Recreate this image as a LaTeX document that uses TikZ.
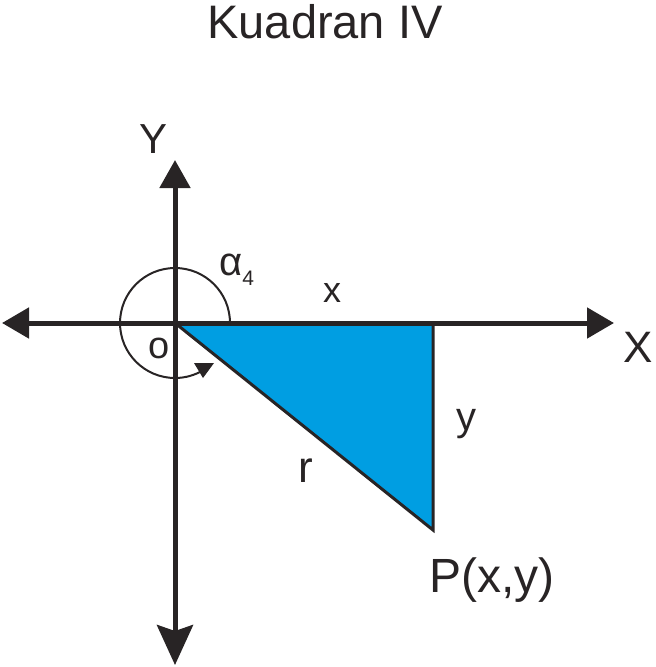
\documentclass[tikz,border=0pt]{standalone}
\usepackage{fontspec}
\setmainfont{Liberation Sans}
\usetikzlibrary{arrows.meta}
\definecolor{ink}{RGB}{40,36,37}
\definecolor{tri}{RGB}{0,158,226}
\begin{document}
\begin{tikzpicture}[x=1pt,y=-1pt,
  axis/.style={draw=ink,line width=5pt},
  lbl/.style={text=ink,inner sep=0pt,anchor=base}]
\useasboundingbox (0,0) rectangle (656,667);
\coordinate (O) at (175,323);
\coordinate (XL) at (2,323);
\coordinate (XR) at (614,323);
\coordinate (YT) at (175,160);
\coordinate (YB) at (175,665);
\coordinate (A) at (433,323);
\coordinate (P) at (433,530);
% triangle
\filldraw[fill=tri,draw=ink,line width=3pt,line join=miter] (O) -- (A) -- (P) -- cycle;
% axes
\draw[axis,-{Triangle[length=27pt,width=30pt]}] (O) -- (XL);
\draw[axis,-{Triangle[length=27pt,width=30pt]}] (O) -- (XR);
\draw[axis,-{Triangle[length=28pt,width=30pt]}] (O) -- (YT);
\draw[axis,-{Stealth[length=40pt,width=36pt,inset=6pt]}] (O) -- (YB);
% angle arc
\draw[draw=ink,line width=2pt] ([xshift=55pt]O) arc[start angle=0,end angle=302,radius=55pt];
\fill[ink] (194,363) -- (214,363) -- (203,378) -- cycle;
% labels
\node[lbl,font=\fontsize{47}{47}\selectfont] (title) at (325,38) {Kuadran IV};
\node[lbl,font=\fontsize{42}{42}\selectfont] (ylab) at (154,153) {Y};
\node[lbl,font=\fontsize{44}{44}\selectfont] (xlab) at (638,362) {X};
\node[lbl,font=\fontsize{36}{36}\selectfont] (xs) at (332,302) {x};
\node[lbl,font=\fontsize{40}{40}\selectfont] (ys) at (466,430) {y};
\node[lbl,font=\fontsize{44}{44}\selectfont] (rs) at (306,482) {r};
\node[lbl,font=\fontsize{38}{38}\selectfont] (os) at (159,358) {o};
\node[lbl,anchor=base west,font=\fontsize{40}{40}\selectfont] (al) at (219,275) {α\raisebox{-10pt}{\fontsize{21}{21}\selectfont 4}};
\node[lbl,font=\fontsize{48}{48}\selectfont] (pl) at (492,592) {P(x,y)};
\end{tikzpicture}
\end{document}
